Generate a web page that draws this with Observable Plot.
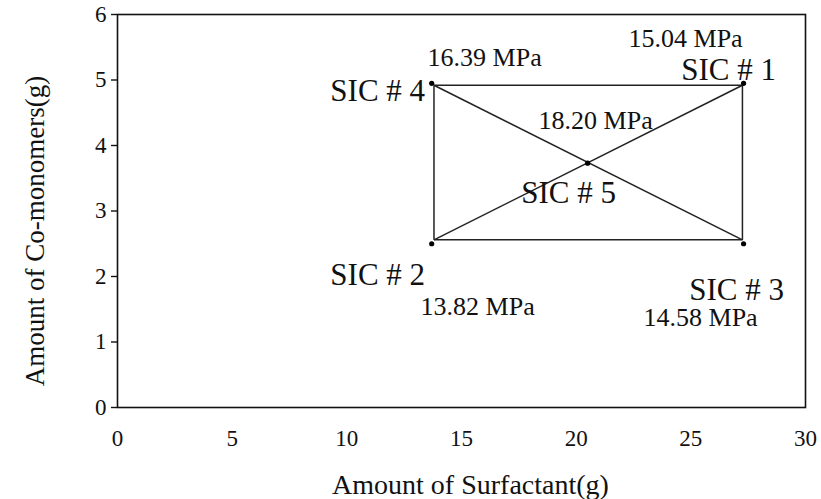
<!DOCTYPE html>
<html>
<head>
<meta charset="utf-8">
<script src="https://cdn.jsdelivr.net/npm/d3@7"></script>
<script src="https://cdn.jsdelivr.net/npm/@observablehq/plot@0.6"></script>
<style>
  html, body { margin: 0; padding: 0; background: #fff; }
</style>
</head>
<body>
<div id="chart"></div>
<script>
// ---- data ----
const samples = ["SIC # 1", "SIC # 2", "SIC # 3", "SIC # 4", "SIC # 5"];
const surfactant = [27.3, 13.7, 27.3, 13.7, 20.5];      // g
const comonomers = [4.95, 2.5, 2.5, 4.95, 3.73];        // g
const strengthMPa = [15.04, 13.82, 14.58, 16.39, 18.20];
// corners of the drawn design rectangle (lines)
const rectX = [13.8, 27.25];
const rectY = [2.56, 4.92];
const xTicks = [0, 5, 10, 15, 20, 25, 30];
const yTicks = [0, 1, 2, 3, 4, 5, 6];

// ---- build tables ----
const points = samples.map((s, i) => ({name: s, x: surfactant[i], y: comonomers[i], mpa: strengthMPa[i]}));
const [x0, x1] = rectX, [y0, y1] = rectY;
const segments = [
  {x1: x0, y1: y1, x2: x1, y2: y1},
  {x1: x0, y1: y0, x2: x1, y2: y0},
  {x1: x0, y1: y0, x2: x0, y2: y1},
  {x1: x1, y1: y0, x2: x1, y2: y1},
  {x1: x0, y1: y1, x2: x1, y2: y0},
  {x1: x0, y1: y0, x2: x1, y2: y1}
];

// label placement offsets (layout, px)
const nameOff = {"SIC # 1": [-15, -3], "SIC # 2": [-54, 41], "SIC # 3": [-7, 56], "SIC # 4": [-54, 18], "SIC # 5": [-19, 40]};
const mpaOff  = {"SIC # 1": [-58, -36], "SIC # 2": [46, 71], "SIC # 3": [-43, 82], "SIC # 4": [53, -17], "SIC # 5": [8, -34]};

const font = "'Liberation Serif', 'Times New Roman', serif";
const marks = [
  Plot.frame({stroke: "#111", strokeWidth: 1.6}),
  Plot.axisX({ticks: xTicks, tickSize: 0, tickPadding: 22, label: null, fontSize: 23, tickFormat: d3.format("d")}),
  Plot.axisY({ticks: yTicks, tickSize: 6, tickPadding: 5, label: null, fontSize: 23, tickFormat: d3.format("d"), strokeWidth: 1.4}),
  Plot.link(segments, {x1: "x1", y1: "y1", x2: "x2", y2: "y2", stroke: "#222", strokeWidth: 1.5}),
  Plot.dot(points, {x: "x", y: "y", r: 2.6, fill: "#000", stroke: null}),
  Plot.text(["Amount of Surfactant(g)"], {frameAnchor: "bottom", textAnchor: "middle", dx: 9, dy: 86, lineAnchor: "bottom", fontSize: 28, fill: "#111"}),
  Plot.text(["Amount of Co-monomers(g)"], {frameAnchor: "left", textAnchor: "middle", dx: -74, dy: 20, rotate: -90, lineAnchor: "bottom", fontSize: 27, fill: "#111"})
];
for (const p of points) {
  const [ndx, ndy] = nameOff[p.name];
  const [mdx, mdy] = mpaOff[p.name];
  marks.push(Plot.text([p], {x: "x", y: "y", text: "name", dx: ndx, dy: ndy, lineAnchor: "bottom", fontSize: 31, fill: "#111"}));
  marks.push(Plot.text([p], {x: "x", y: "y", text: d => d.mpa.toFixed(2) + " MPa", dx: mdx, dy: mdy, lineAnchor: "bottom", fontSize: 26, fill: "#111"}));
}

const chart = Plot.plot({
  width: 821,
  height: 499,
  marginLeft: 117,
  marginRight: 16,
  marginTop: 14,
  marginBottom: 92,
  x: {domain: [0, 30]},
  y: {domain: [0, 6]},
  style: {fontFamily: font, background: "#fff", color: "#111", overflow: "visible"},
  marks
});
document.getElementById("chart").appendChild(chart);
</script>
</body>
</html>
